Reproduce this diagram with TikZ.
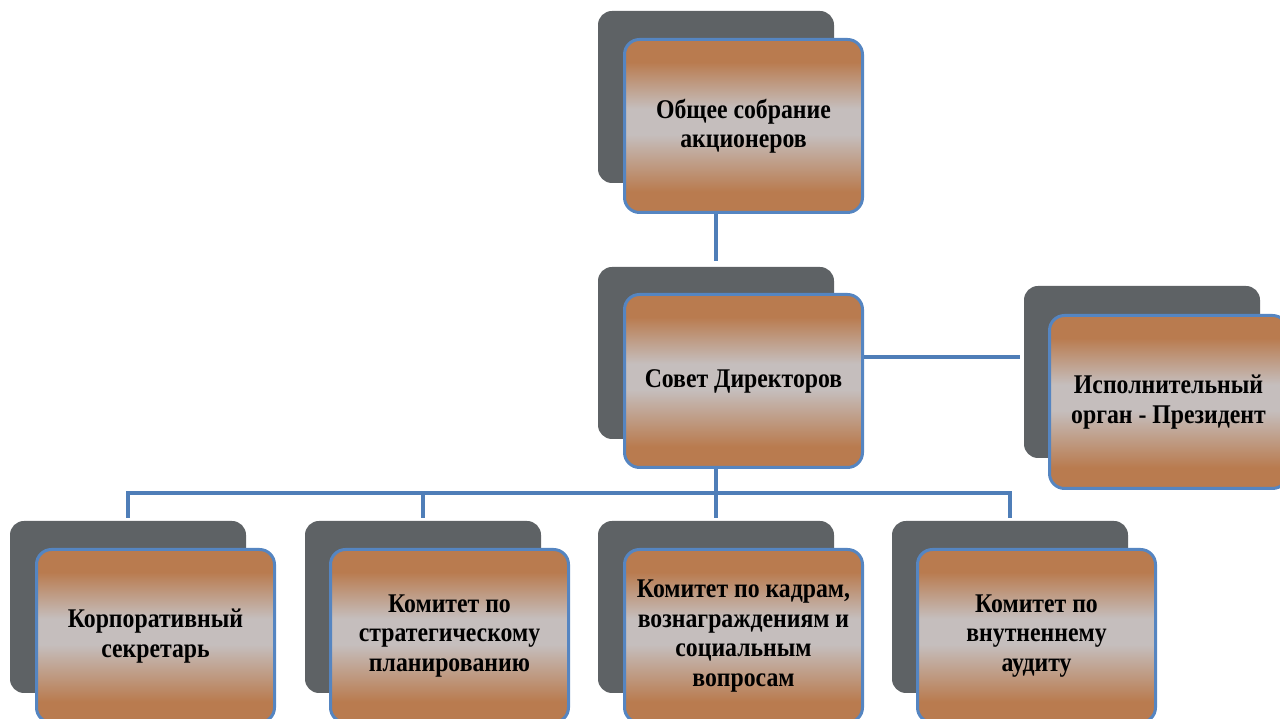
\documentclass[tikz,border=0pt]{standalone}
\usepackage{fontspec}
\setmainfont{Liberation Serif}
\newfontfamily\boxfont[FakeStretch=0.88]{Liberation Serif}
\definecolor{brn}{HTML}{B97B4F}
\definecolor{midg}{HTML}{C5BEBD}
\definecolor{backgrey}{HTML}{5E6265}
\definecolor{boxblue}{HTML}{5585C1}
\definecolor{lineblue}{HTML}{4F7EB8}
\pgfdeclareverticalshading{boxshade}{100bp}{color(0bp)=(brn); color(31bp)=(brn); color(47.5bp)=(midg); color(55bp)=(midg); color(68.5bp)=(brn); color(100bp)=(brn)}
\begin{document}
\begin{tikzpicture}[x=1pt,y=1pt,
  back/.style={fill=backgrey, rounded corners=14pt, minimum width=236pt, minimum height=172pt, inner sep=0pt, draw=none},
  front/.style={shade, shading=boxshade, draw=boxblue, line width=3pt, rounded corners=15pt, minimum width=238pt, minimum height=173pt, inner sep=0pt, align=flush center, text width=228pt, font=\boxfont\fontsize{27}{29.5}\selectfont\bfseries},
  conn/.style={draw=lineblue, line width=3.5pt}]
\useasboundingbox (0,0) rectangle (1280,719);
\clip (0,0) rectangle (1280,719);
\coordinate (bus) at (716,226);
% background cards
\node[back] (g1) at (716,622) {};
\node[back] (g2) at (716,366) {};
\node[back] (g3) at (1142,347) {};
\node[back] (g4) at (128,112) {};
\node[back] (g5) at (423,112) {};
\node[back] (g6) at (716,112) {};
\node[back] (g7) at (1010,112) {};
% front cards
\node[front] (f1) at (743.5,593) {Общее собрание\\акционеров};
\node[front] (f2) at (743.5,338) {Совет Директоров};
\node[front] (f3) at (1168.5,317) {Исполнительный\\орган - Президент};
\node[front] (f4) at (155.5,83) {Корпоративный\\секретарь};
\node[front] (f5) at (449.5,83) {Комитет по\\стратегическому\\планированию};
\node[front] (f6) at (743.5,83) {Комитет по кадрам,\\вознаграждениям и\\социальным\\вопросам};
\node[front] (f7) at (1036.5,83) {Комитет по\\внутненнему\\аудиту};
% connectors
\draw[conn] (g1 |- f1.south) -- ([yshift=6pt]g2.north);
\draw[conn] (f2.east |- 0,362) -- ([xshift=-4pt]g3.west |- 0,362);
\draw[conn] (g2 |- f2.south) -- ([yshift=3pt]g6.north);
\draw[conn] ([yshift=3pt]g4.north) -- (g4 |- bus) -- (g7 |- bus) -- ([yshift=3pt]g7.north);
\draw[conn] (g5 |- bus) -- ([yshift=3pt]g5.north);
\end{tikzpicture}
\end{document}
